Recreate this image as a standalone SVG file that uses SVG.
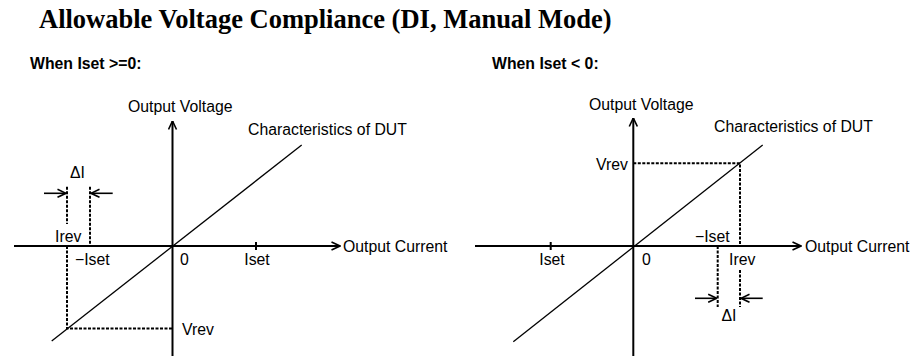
<svg xmlns="http://www.w3.org/2000/svg" width="919" height="357" viewBox="0 0 919 357">
<style>
.title{font-family:"Liberation Serif","Times New Roman",serif;font-weight:bold;font-size:26.5px;fill:#000}
.sub{font-family:"Liberation Sans",Arial,sans-serif;font-weight:bold;font-size:15.8px;fill:#000}
.lbl{font-family:"Liberation Sans",Arial,sans-serif;font-size:15.8px;fill:#000}
.axis{stroke:#000;stroke-width:2;fill:none}
.dut{stroke:#000;stroke-width:1.3;fill:none}
.dot{stroke:#000;stroke-width:2;stroke-dasharray:3 1.5;fill:none}
.dim{stroke:#000;stroke-width:1.6;fill:none}
.tick{stroke:#000;stroke-width:2}
</style>
<defs>
<marker id="arr" viewBox="0 0 10 10" refX="9.5" refY="5" markerWidth="10" markerHeight="10" markerUnits="userSpaceOnUse" orient="auto">
<path d="M1,1 L9.5,5 L1,9" stroke="#000" stroke-width="1.6" fill="none"/>
</marker>
</defs>
<rect width="919" height="357" fill="#fff"/>
<g id="title"><text class="title" x="39" y="28">Allowable Voltage Compliance (DI, Manual Mode)</text></g>

<g id="left-panel">
<text class="sub" x="30" y="68.5">When Iset &gt;=0:</text>
<g id="left-axes">
<line class="axis" x1="172.5" y1="356" x2="172.5" y2="121" marker-end="url(#arr)"/>
<line class="axis" x1="14" y1="246" x2="340" y2="246" marker-end="url(#arr)"/>
<line class="tick" x1="256" y1="242" x2="256" y2="250"/>
</g>
<line id="left-dut" class="dut" x1="51.7" y1="341" x2="301.7" y2="145"/>
<g id="left-guides">
<path class="dot" d="M67,186.7 V224"/>
<path class="dot" d="M67,246 V328.5 H172.5"/>
<path class="dot" d="M90,186.7 V246"/>
</g>
<g id="left-labels">
<text class="lbl" x="128" y="111.5">Output Voltage</text>
<text class="lbl" x="343" y="251.5">Output Current</text>
<text class="lbl" x="248" y="135">Characteristics of DUT</text>
<text class="lbl" x="55" y="242">Irev</text>
<text class="lbl" x="75" y="264.5">−Iset</text>
<text class="lbl" x="180" y="264.5">0</text>
<text class="lbl" x="257" y="264.5" text-anchor="middle">Iset</text>
<text class="lbl" x="182" y="335">Vrev</text>
<text class="lbl" x="77.5" y="177.5" text-anchor="middle">ΔI</text>
</g>
</g>

<g id="right-panel">
<text class="sub" x="492" y="68.5">When Iset &lt; 0:</text>
<g id="right-axes">
<line class="axis" x1="633.3" y1="356" x2="633.3" y2="118" marker-end="url(#arr)"/>
<line class="axis" x1="475" y1="246" x2="801" y2="246" marker-end="url(#arr)"/>
<line class="tick" x1="550.7" y1="242" x2="550.7" y2="250"/>
</g>
<line id="right-dut" class="dut" x1="513.3" y1="341.7" x2="762.7" y2="145"/>
<g id="right-guides">
<path class="dot" d="M633.3,163.3 H740 V246"/>
<path class="dot" d="M740,270 V307"/>
<path class="dot" d="M717.7,246 V307"/>
</g>
<g id="right-labels">
<text class="lbl" x="589" y="110">Output Voltage</text>
<text class="lbl" x="805" y="251.5">Output Current</text>
<text class="lbl" x="714" y="132">Characteristics of DUT</text>
<text class="lbl" x="596" y="170">Vrev</text>
<text class="lbl" x="695" y="242">−Iset</text>
<text class="lbl" x="729" y="265">Irev</text>
<text class="lbl" x="642" y="265">0</text>
<text class="lbl" x="552" y="265" text-anchor="middle">Iset</text>
<text class="lbl" x="729" y="320.5" text-anchor="middle">ΔI</text>
</g>
</g>

<g id="connectors">
<line class="dim" x1="44" y1="193.3" x2="66" y2="193.3" marker-end="url(#arr)"/>
<line class="dim" x1="112.7" y1="193.3" x2="91" y2="193.3" marker-end="url(#arr)"/>
<line class="dim" x1="695" y1="298.3" x2="716.7" y2="298.3" marker-end="url(#arr)"/>
<line class="dim" x1="762.7" y1="298.3" x2="741" y2="298.3" marker-end="url(#arr)"/>
</g>
</svg>
